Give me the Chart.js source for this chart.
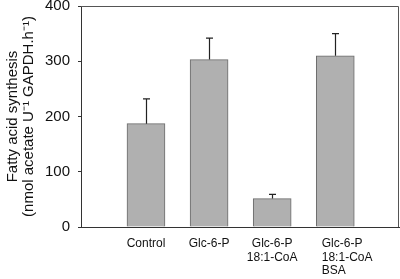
<!DOCTYPE html>
<html>
<head>
<meta charset="utf-8">
<script src="https://cdn.jsdelivr.net/npm/chart.js@4/dist/chart.umd.min.js"></script>
<style>
  html, body { margin: 0; padding: 0; background: #fff; }
  #wrap { width: 400px; height: 279px; position: relative; }
</style>
</head>
<body>
<div id="wrap"><canvas id="c"></canvas></div>
<script>
// ---- data ----
const categories = [
  ["Control"],
  ["Glc-6-P"],
  ["Glc-6-P", "18:1-CoA"],
  ["Glc-6-P", "18:1-CoA", "BSA"]
];
const synthesis = [187, 303, 51.5, 310];
const errors = [45, 39, 7.5, 40];
const yTicks = [0, 100, 200, 300, 400];
const yTitle = ["Fatty acid synthesis", "(nmol acetate U\u207B\u00B9 GAPDH.h\u207B\u00B9)"];

const FONT = "'Liberation Sans', Arial, Helvetica, sans-serif";

const errorBarPlugin = {
  id: 'errorBars',
  afterDatasetsDraw(chart) {
    const ctx = chart.ctx;
    const meta = chart.getDatasetMeta(0);
    const ys = chart.scales.y;
    ctx.save();
    ctx.strokeStyle = '#222';
    ctx.lineWidth = 1.2;
    meta.data.forEach((bar, i) => {
      const x = Math.round(bar.x) + 0.5;
      const yTop = ys.getPixelForValue(synthesis[i] + errors[i]);
      const yBar = ys.getPixelForValue(synthesis[i]);
      ctx.beginPath();
      ctx.moveTo(x, yBar);
      ctx.lineTo(x, yTop);
      ctx.moveTo(x - 3.5, yTop);
      ctx.lineTo(x + 3.5, yTop);
      ctx.stroke();
    });
    ctx.restore();
  }
};

const framePlugin = {
  id: 'frame',
  afterDraw(chart) {
    const a = chart.chartArea;
    const ctx = chart.ctx;
    ctx.save();
    ctx.strokeStyle = '#555';
    ctx.lineWidth = 1;
    ctx.beginPath();
    ctx.moveTo(a.left, Math.round(a.top) + 0.5);
    ctx.lineTo(Math.round(a.right) - 0.5, Math.round(a.top) + 0.5);
    ctx.lineTo(Math.round(a.right) - 0.5, a.bottom);
    ctx.stroke();
    ctx.restore();
  }
};

const xLabelPlugin = {
  id: 'xLabels',
  afterDraw(chart) {
    const ctx = chart.ctx;
    const xs = chart.scales.x;
    const a = chart.chartArea;
    ctx.save();
    ctx.fillStyle = '#111';
    ctx.font = "12px " + FONT;
    ctx.textBaseline = 'top';
    categories.forEach((lines, i) => {
      const cx = xs.getPixelForValue(i);
      const last = i === categories.length - 1;
      ctx.textAlign = last ? 'left' : 'center';
      const x = last ? cx - 13.5 : cx;
      lines.forEach((t, j) => {
        ctx.fillText(t, x, a.bottom + 11 + j * 13.5);
      });
    });
    ctx.restore();
  }
};

new Chart(document.getElementById('c'), {
  type: 'bar',
  data: {
    datasets: [{
      data: synthesis.map((v, i) => ({ x: i, y: v })),
      backgroundColor: '#b0b0b0',
      borderColor: '#6a6a6a',
      borderWidth: 1,
      barThickness: 38
    }]
  },
  options: {
    responsive: true,
    maintainAspectRatio: false,
    animation: false,
    events: [],
    layout: { autoPadding: false, padding: { top: 6, right: 1, bottom: 52, left: 0 } },
    plugins: { legend: { display: false }, tooltip: { enabled: false } },
    scales: {
      x: {
        type: 'linear',
        offset: false,
        min: -1.03,
        max: 4.01,
        grid: { display: false, drawTicks: false, tickLength: 0 },
        border: { display: true, color: '#333', width: 1 },
        ticks: { display: false }
      },
      y: {
        min: 0,
        max: 400,
        afterBuildTicks(scale) { scale.ticks = yTicks.map(v => ({ value: v })); },
        afterFit(scale) { scale.width = 81; scale.paddingTop = 0; scale.paddingBottom = 0; },
        grid: { drawOnChartArea: false, drawTicks: true, tickLength: 3, color: '#333' },
        border: { display: true, color: '#333', width: 1 },
        ticks: {
          color: '#111',
          padding: 8,
          font: { family: FONT, size: 15 }
        },
        title: {
          display: true,
          text: yTitle,
          color: '#111',
          font: { family: FONT, size: 15, lineHeight: 1.07 },
          padding: { top: 5, bottom: 0 }
        }
      }
    }
  },
  plugins: [errorBarPlugin, framePlugin, xLabelPlugin]
});
</script>
</body>
</html>
